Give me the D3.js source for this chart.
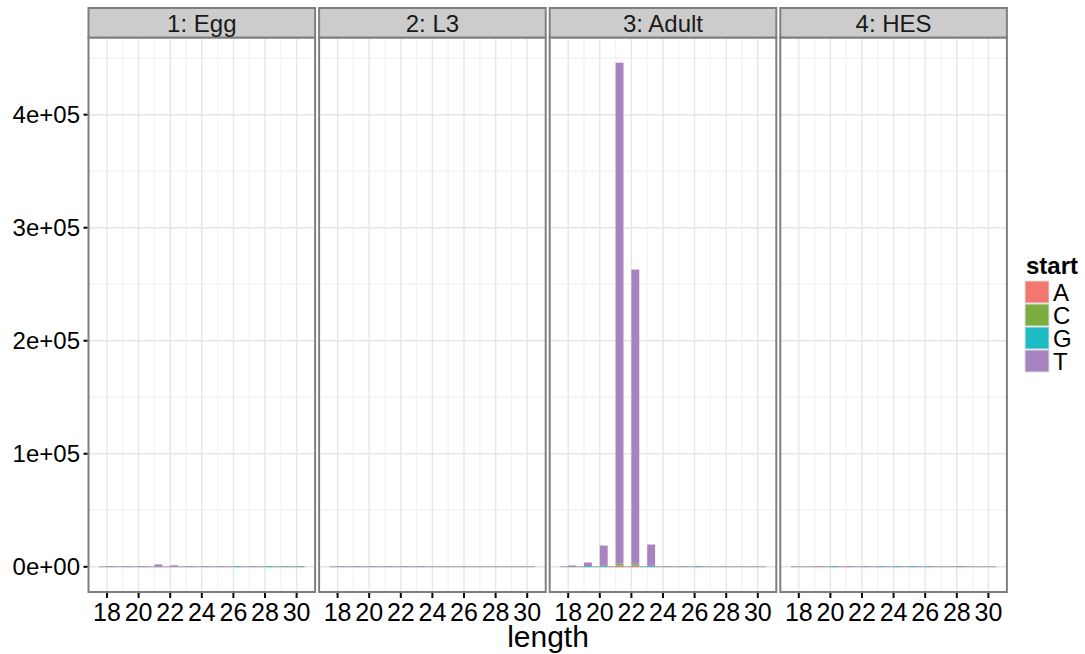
<!DOCTYPE html>
<html>
<head>
<meta charset="utf-8">
<script src="https://cdn.jsdelivr.net/npm/d3@7"></script>
<style>
  html, body { margin: 0; padding: 0; background: #fff; }
  svg { display: block; font-family: "Liberation Sans", Arial, Helvetica, sans-serif; }
</style>
</head>
<body>
<svg id="chart" width="1085" height="654"></svg>
<script>
// Small RNA read counts by length, split by first nucleotide, per life stage
const stages = ["1: Egg", "2: L3", "3: Adult", "4: HES"];
const lengths = [18, 19, 20, 21, 22, 23, 24, 25, 26, 27, 28, 29, 30];
const bases = ["A", "C", "G", "T"];
const baseColors = ["#f2776d", "#7bad3f", "#1dbcc2", "#a883bf"];

// counts per stage, one array per starting base (lengths 18..30)
const eggA   = [0, 0, 0, 0, 0, 0, 0, 0, 0, 0, 0, 0, 0];
const eggC   = [0, 0, 0, 0, 0, 0, 0, 0, 0, 0, 0, 0, 0];
const eggG   = [0, 0, 0, 0, 0, 0, 0, 0, 600, 0, 600, 600, 600];
const eggT   = [600, 600, 600, 2100, 1300, 600, 600, 600, 0, 600, 0, 0, 0];

const l3A    = [0, 0, 0, 0, 0, 0, 0, 0, 0, 0, 0, 0, 0];
const l3C    = [0, 0, 0, 0, 0, 0, 0, 0, 0, 0, 0, 0, 0];
const l3G    = [0, 0, 0, 0, 0, 0, 0, 0, 0, 0, 0, 0, 0];
const l3T    = [600, 600, 600, 600, 600, 600, 0, 0, 0, 0, 0, 0, 0];

const adultA = [0, 0, 0, 900, 900, 0, 0, 0, 0, 0, 0, 0, 0];
const adultC = [0, 0, 0, 1500, 1400, 0, 0, 0, 0, 0, 0, 0, 0];
const adultG = [0, 700, 900, 300, 300, 800, 0, 0, 600, 0, 0, 0, 0];
const adultT = [1200, 3100, 17900, 443300, 260400, 18900, 500, 500, 0, 0, 0, 0, 0];

const hesA   = [0, 600, 0, 0, 0, 0, 0, 0, 0, 0, 0, 0, 0];
const hesC   = [0, 0, 0, 0, 0, 0, 0, 0, 0, 0, 0, 0, 0];
const hesG   = [0, 0, 600, 0, 0, 600, 600, 600, 600, 0, 600, 0, 0];
const hesT   = [0, 0, 0, 600, 600, 0, 0, 0, 0, 0, 0, 0, 0];

const stageCounts = [
  [eggA, eggC, eggG, eggT],
  [l3A, l3C, l3G, l3T],
  [adultA, adultC, adultG, adultT],
  [hesA, hesC, hesG, hesT]
];

const xTicks = [18, 20, 22, 24, 26, 28, 30];
const yTicks = [0, 100000, 200000, 300000, 400000];
const zeroLineSpan = [17.5, 30.5];   // baseline drawn under the bars
const barOffset = 0;                 // bars sit to the right of each length
const barWidth = 0.5;

// ---- layout ----
const svg = d3.select("#chart");
const panelLeft0 = 88.5, panelW = 226.6, panelGap = 4;
const stripTop = 8, panelTop = 37.5, panelBottom = 592;

// stacked totals, for the shared y scale
const tables = stageCounts.map(cols => lengths.map((len, i) => {
  const row = { length: len };
  bases.forEach((b, j) => row[b] = cols[j][i]);
  return row;
}));
const maxTotal = d3.max(tables.flat(), r => d3.sum(bases, b => r[b]));

const y = d3.scaleLinear()
  .domain([-0.05 * maxTotal, maxTotal * 1.05])
  .range([panelBottom, panelTop]);

const stack = d3.stack().keys(bases);
const color = d3.scaleOrdinal().domain(bases).range(baseColors);

const fmtSci = d => {
  if (d === 0) return "0e+00";
  const e = Math.floor(Math.log10(Math.abs(d)));
  const m = Math.round(d / Math.pow(10, e));
  return m + "e" + (e < 0 ? "-" : "+") + String(Math.abs(e)).padStart(2, "0");
};

stages.forEach((stage, p) => {
  const left = panelLeft0 + p * (panelW + panelGap);
  const x = d3.scaleLinear().domain([16.83, 31.17]).range([left, left + panelW]);
  const g = svg.append("g");

  // panel background
  g.append("rect").attr("x", left).attr("y", panelTop)
    .attr("width", panelW).attr("height", panelBottom - panelTop)
    .attr("fill", "#fff");

  // minor grid
  const xMinor = d3.range(19, 30, 2);
  const yMinor = d3.range(50000, y.domain()[1], 100000);
  g.selectAll(".vminor").data(xMinor).join("line")
    .attr("x1", d => x(d)).attr("x2", d => x(d))
    .attr("y1", panelTop).attr("y2", panelBottom)
    .attr("stroke", "#f4f4f4").attr("stroke-width", 1.4);
  g.selectAll(".hminor").data(yMinor).join("line")
    .attr("x1", left).attr("x2", left + panelW)
    .attr("y1", d => y(d)).attr("y2", d => y(d))
    .attr("stroke", "#f4f4f4").attr("stroke-width", 1.4);

  // major grid
  g.selectAll(".vmajor").data(xTicks).join("line")
    .attr("x1", d => x(d)).attr("x2", d => x(d))
    .attr("y1", panelTop).attr("y2", panelBottom)
    .attr("stroke", "#e6e6e6").attr("stroke-width", 1.4);
  g.selectAll(".hmajor").data(yTicks).join("line")
    .attr("x1", left).attr("x2", left + panelW)
    .attr("y1", d => y(d)).attr("y2", d => y(d))
    .attr("stroke", "#e6e6e6").attr("stroke-width", 1.4);

  // baseline at zero
  g.append("line")
    .attr("x1", x(zeroLineSpan[0])).attr("x2", x(zeroLineSpan[1]))
    .attr("y1", y(0)).attr("y2", y(0))
    .attr("stroke", "#9a9a9a").attr("stroke-width", 0.9);

  // stacked bars
  const series = stack(tables[p]);
  g.selectAll(".layer").data(series).join("g")
    .attr("fill", s => color(s.key))
    .selectAll("rect").data(s => s).join("rect")
    .attr("x", d => x(d.data.length + barOffset))
    .attr("width", d => x(d.data.length + barOffset + barWidth) - x(d.data.length + barOffset))
    .attr("y", d => y(d[1]))
    .attr("height", d => Math.max(0, y(d[0]) - y(d[1])));

  // panel border
  g.append("rect").attr("x", left).attr("y", panelTop)
    .attr("width", panelW).attr("height", panelBottom - panelTop)
    .attr("fill", "none").attr("stroke", "#7f7f7f").attr("stroke-width", 2);

  // strip
  g.append("rect").attr("x", left).attr("y", stripTop)
    .attr("width", panelW).attr("height", panelTop - stripTop)
    .attr("fill", "#cccccc").attr("stroke", "#7f7f7f").attr("stroke-width", 2);
  g.append("text").attr("x", left + panelW / 2).attr("y", 32)
    .attr("text-anchor", "middle").attr("font-size", 24).attr("fill", "#1a1a1a")
    .text(stage);

  // x axis ticks and labels
  const xa = g.append("g");
  xa.selectAll("line").data(xTicks).join("line")
    .attr("x1", d => x(d)).attr("x2", d => x(d))
    .attr("y1", panelBottom + 1).attr("y2", panelBottom + 6)
    .attr("stroke", "#000").attr("stroke-width", 2);
  xa.selectAll("text").data(xTicks).join("text")
    .attr("x", d => x(d)).attr("y", 621)
    .attr("text-anchor", "middle").attr("font-size", 25).attr("fill", "#000")
    .text(d => d);
});

// y axis on the first panel
const ya = svg.append("g");
ya.selectAll("line").data(yTicks).join("line")
  .attr("x1", panelLeft0 - 5).attr("x2", panelLeft0 - 1)
  .attr("y1", d => y(d)).attr("y2", d => y(d))
  .attr("stroke", "#000").attr("stroke-width", 2);
ya.selectAll("text").data(yTicks).join("text")
  .attr("x", 80).attr("y", d => y(d)).attr("dy", "0.36em")
  .attr("text-anchor", "end").attr("font-size", 24).attr("fill", "#000")
  .text(fmtSci);

// x axis title
svg.append("text")
  .attr("x", 548).attr("y", 647)
  .attr("text-anchor", "middle").attr("font-size", 30).attr("fill", "#000")
  .text("length");

// legend
const lg = svg.append("g");
lg.append("text").attr("x", 1026).attr("y", 274)
  .attr("font-size", 24).attr("font-weight", "bold").attr("fill", "#000")
  .text("start");
const keyH = 23, keyTop = 281;
lg.selectAll("rect").data(bases).join("rect")
  .attr("x", 1025).attr("y", (d, i) => keyTop + i * keyH)
  .attr("width", 24).attr("height", keyH - 1)
  .attr("fill", d => color(d)).attr("stroke", "#e0e0e0").attr("stroke-width", 1);
lg.selectAll("text.lab").data(bases).join("text").attr("class", "lab")
  .attr("x", 1053).attr("y", (d, i) => keyTop + i * keyH + keyH / 2)
  .attr("dy", "0.36em").attr("font-size", 24).attr("fill", "#000")
  .text(d => d);
</script>
</body>
</html>
